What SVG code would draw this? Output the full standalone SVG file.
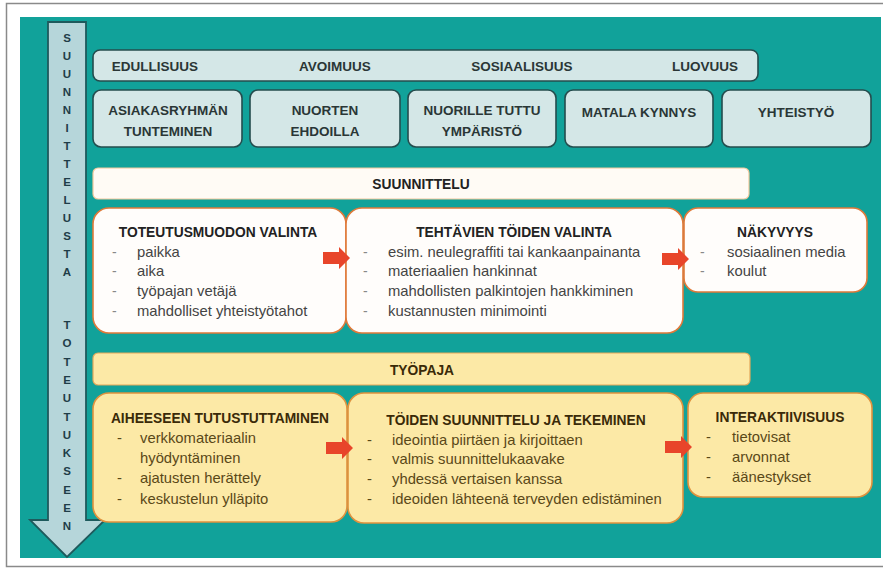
<svg xmlns="http://www.w3.org/2000/svg" width="883" height="570" viewBox="0 0 883 570">
<style>
text{font-family:"Liberation Sans",Arial,sans-serif}
.h{font-weight:bold;font-size:13.5px;fill:#2a3636;text-anchor:middle}
.blue{fill:#d4e7e7;stroke:#244d4e;stroke-width:1.6}
.wbox{fill:#fffdfb;stroke:#e07a3a;stroke-width:1.6}
.ybox{fill:#fce9a6;stroke:#e0923e;stroke-width:1.6}
.t{font-weight:bold;font-size:13.8px;fill:#222}
.yt{font-weight:bold;font-size:13.8px;fill:#3a2a08}
.i{font-size:14.8px;fill:#444}
.yi{font-size:14.8px;fill:#5a4818}
.d{font-size:14px;fill:#888}
.v{font-weight:bold;font-size:11.5px;fill:#1f3d48;text-anchor:middle}
.ra{fill:#e8452a}
</style>
<defs>
<path id="blk" d="M0,-6 H16 V-11 L27,0 L16,11 V6 H0 Z"/>
</defs>
<rect x="0" y="0" width="883" height="570" fill="#ffffff"/>
<rect x="6.5" y="3.5" width="878" height="563" fill="#ffffff" stroke="#8a8a8a" stroke-width="1.5"/>
<rect x="20" y="17" width="861" height="541" fill="#11a29a"/>

<g id="process-arrow">
<path d="M48,22 H86 V520 H105 L67,557 L30,520 H48 Z" fill="#b6d6da" stroke="#1e5a5c" stroke-width="1.8"/>
<text class="v" x="67" y="42">S</text>
<text class="v" x="67" y="60">U</text>
<text class="v" x="67" y="78">U</text>
<text class="v" x="67" y="96">N</text>
<text class="v" x="67" y="114">N</text>
<text class="v" x="67" y="132">I</text>
<text class="v" x="67" y="150">T</text>
<text class="v" x="67" y="168">T</text>
<text class="v" x="67" y="186">E</text>
<text class="v" x="67" y="204">L</text>
<text class="v" x="67" y="222">U</text>
<text class="v" x="67" y="240">S</text>
<text class="v" x="67" y="258">T</text>
<text class="v" x="67" y="276">A</text>
<text class="v" x="67" y="329">T</text>
<text class="v" x="67" y="347">O</text>
<text class="v" x="67" y="366">T</text>
<text class="v" x="67" y="384">E</text>
<text class="v" x="67" y="402">U</text>
<text class="v" x="67" y="421">T</text>
<text class="v" x="67" y="439">U</text>
<text class="v" x="67" y="457">K</text>
<text class="v" x="67" y="475">S</text>
<text class="v" x="67" y="494">E</text>
<text class="v" x="67" y="512">E</text>
<text class="v" x="67" y="530">N</text>
</g>

<g id="values">
<rect class="blue" x="93" y="50" width="665" height="31" rx="7"/>
<text class="h" x="155" y="71">EDULLISUUS</text>
<text class="h" x="335" y="71">AVOIMUUS</text>
<text class="h" x="522" y="71">SOSIAALISUUS</text>
<text class="h" x="705" y="71">LUOVUUS</text>
</g>

<g id="asiakasryhman">
<rect class="blue" x="93" y="90" width="149" height="57" rx="8"/>
<text class="h" x="168" y="115">ASIAKASRYHMÄN</text>
<text class="h" x="168" y="136">TUNTEMINEN</text>
</g>
<g id="nuorten">
<rect class="blue" x="250" y="90" width="150" height="57" rx="8"/>
<text class="h" x="325" y="115">NUORTEN</text>
<text class="h" x="325" y="136">EHDOILLA</text>
</g>
<g id="nuorille">
<rect class="blue" x="408" y="90" width="148" height="57" rx="8"/>
<text class="h" x="482" y="115">NUORILLE TUTTU</text>
<text class="h" x="482" y="136">YMPÄRISTÖ</text>
</g>
<g id="matala">
<rect class="blue" x="565" y="90" width="148" height="57" rx="8"/>
<text class="h" x="639" y="117">MATALA KYNNYS</text>
</g>
<g id="yhteistyo">
<rect class="blue" x="722" y="90" width="149" height="57" rx="8"/>
<text class="h" x="796" y="117">YHTEISTYÖ</text>
</g>

<g id="suunnittelu">
<rect x="93" y="168" width="656" height="31" rx="5" fill="#fffbf5" stroke="#f2c89c" stroke-width="1.2"/>
<text class="t" x="421" y="189" text-anchor="middle" font-size="14.5">SUUNNITTELU</text>
</g>

<g id="toteutusmuodon">
<rect class="wbox" x="93" y="208" width="253" height="125" rx="16"/>
<text class="t" x="218" y="237" text-anchor="middle">TOTEUTUSMUODON VALINTA</text>
<text class="d" x="112" y="257">-</text><text class="i" x="137" y="257">paikka</text>
<text class="d" x="112" y="276">-</text><text class="i" x="137" y="276">aika</text>
<text class="d" x="112" y="296">-</text><text class="i" x="137" y="296">työpajan vetäjä</text>
<text class="d" x="112" y="316">-</text><text class="i" x="137" y="316">mahdolliset yhteistyötahot</text>
</g>
<g id="tehtavien">
<rect class="wbox" x="346" y="208" width="337" height="125" rx="16"/>
<text class="t" x="514" y="237" text-anchor="middle">TEHTÄVIEN TÖIDEN VALINTA</text>
<text class="d" x="363" y="257">-</text><text class="i" x="388" y="257">esim. neulegraffiti tai kankaanpainanta</text>
<text class="d" x="363" y="276">-</text><text class="i" x="388" y="276">materiaalien hankinnat</text>
<text class="d" x="363" y="296">-</text><text class="i" x="388" y="296">mahdollisten palkintojen hankkiminen</text>
<text class="d" x="363" y="316">-</text><text class="i" x="388" y="316">kustannusten minimointi</text>
</g>
<g id="nakyvyys">
<rect class="wbox" x="684" y="208" width="183" height="84" rx="14"/>
<text class="t" x="775" y="237" text-anchor="middle">NÄKYVYYS</text>
<text class="d" x="700" y="257">-</text><text class="i" x="727" y="257">sosiaalinen media</text>
<text class="d" x="700" y="276">-</text><text class="i" x="727" y="276">koulut</text>
</g>

<g id="tyopaja">
<rect x="93" y="353" width="657" height="32" rx="5" fill="#fce9a6" stroke="#e3a85a" stroke-width="1.2"/>
<text class="yt" x="422" y="375" text-anchor="middle" font-size="14.5">TYÖPAJA</text>
</g>

<g id="aiheeseen">
<rect class="ybox" x="93" y="393" width="254" height="129" rx="16"/>
<text class="yt" x="220" y="423" text-anchor="middle">AIHEESEEN TUTUSTUTTAMINEN</text>
<text class="yi" x="117" y="443">-</text><text class="yi" x="140" y="443">verkkomateriaalin</text>
<text class="yi" x="140" y="463">hyödyntäminen</text>
<text class="yi" x="117" y="483">-</text><text class="yi" x="140" y="483">ajatusten herättely</text>
<text class="yi" x="117" y="504">-</text><text class="yi" x="140" y="504">keskustelun ylläpito</text>
</g>
<g id="toiden">
<rect class="ybox" x="348" y="393" width="335" height="130" rx="16"/>
<text class="yt" x="516" y="425" text-anchor="middle">TÖIDEN SUUNNITTELU JA TEKEMINEN</text>
<text class="yi" x="367" y="445">-</text><text class="yi" x="392" y="445">ideointia piirtäen ja kirjoittaen</text>
<text class="yi" x="367" y="464">-</text><text class="yi" x="392" y="464">valmis suunnittelukaavake</text>
<text class="yi" x="367" y="484">-</text><text class="yi" x="392" y="484">yhdessä vertaisen kanssa</text>
<text class="yi" x="367" y="504">-</text><text class="yi" x="392" y="504">ideoiden lähteenä terveyden edistäminen</text>
</g>
<g id="interaktiivisuus">
<rect class="ybox" x="688" y="393" width="184" height="104" rx="15"/>
<text class="yt" x="780" y="422" text-anchor="middle">INTERAKTIIVISUUS</text>
<text class="yi" x="706" y="442">-</text><text class="yi" x="732" y="442">tietovisat</text>
<text class="yi" x="706" y="462">-</text><text class="yi" x="732" y="462">arvonnat</text>
<text class="yi" x="706" y="482">-</text><text class="yi" x="732" y="482">äänestykset</text>
</g>

<g id="connectors">
<use href="#blk" class="ra" transform="translate(323,258)"/>
<use href="#blk" class="ra" transform="translate(662,259)"/>
<use href="#blk" class="ra" transform="translate(326,448)"/>
<use href="#blk" class="ra" transform="translate(665,447)"/>
</g>
</svg>
